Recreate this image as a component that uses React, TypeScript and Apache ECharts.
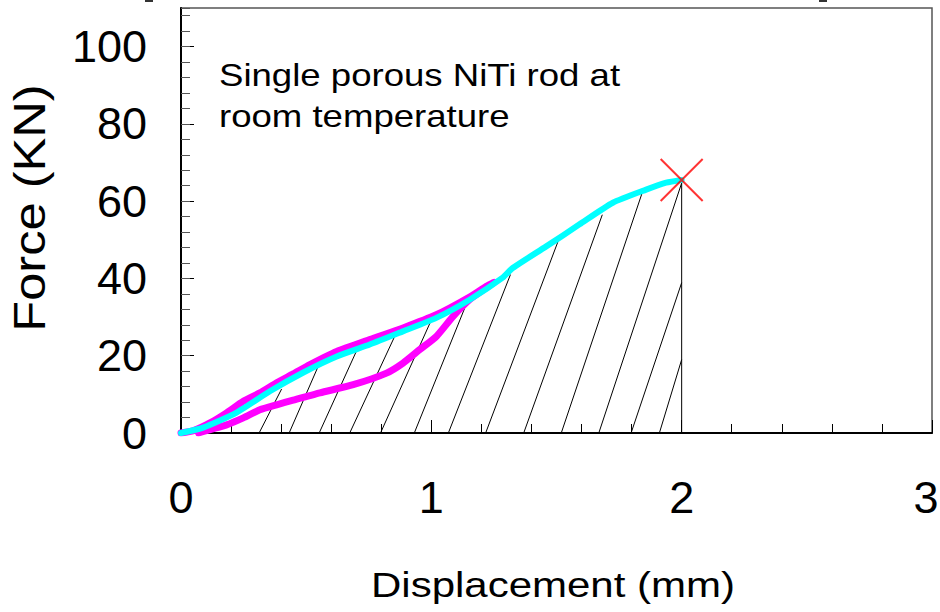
import React, { useEffect, useRef } from "react";
import * as echarts from "echarts";

// Displacement (mm) / force (kN) pairs for the first load-unload loop
const loopLoadX = [0, 0.05, 0.116, 0.182, 0.249, 0.315, 0.382, 0.448, 0.515, 0.622, 0.754, 0.887, 1.02, 1.153, 1.22, 1.25];
const loopLoadY = [0, 0.6, 2.6, 5.2, 8.2, 10.4, 13.0, 15.3, 17.7, 21.1, 24.2, 27.2, 30.6, 35.2, 38.0, 39.0];
const loopUnloadX = [1.25, 1.22, 1.153, 1.087, 1.02, 0.954, 0.887, 0.821, 0.688, 0.555, 0.448, 0.382, 0.315, 0.249, 0.182, 0.116, 0.07];
const loopUnloadY = [39.0, 37.6, 34.5, 30.2, 25.0, 21.6, 18.1, 15.5, 12.5, 10.4, 8.5, 7.3, 6.0, 3.9, 2.1, 0.9, 0];

// Loading to fracture
const fractureX = [0, 0.088, 0.222, 0.355, 0.487, 0.622, 0.754, 0.886, 1.02, 1.153, 1.285, 1.325, 1.459, 1.592, 1.725, 1.858, 1.938, 2.0];
const fractureY = [0, 1.4, 5.3, 10.8, 15.6, 19.8, 22.9, 26.3, 29.8, 34.5, 40.2, 42.7, 48.3, 54.0, 59.6, 63.0, 64.8, 65.5];

// Fracture point
const breakPoint = [2.0, 65.5];

// Hatching under the fracture curve: start on the x axis, end on the curve
const hatchStartX = [0.312, 0.432, 0.552, 0.674, 0.797, 0.932, 1.068, 1.217, 1.369, 1.519, 1.669, 1.798, 1.911, 2.0];
const hatchEndX = [0.402, 0.551, 0.705, 0.855, 0.999, 1.15, 1.316, 1.512, 1.683, 1.845, 2.0, 2.0, 2.0, 2.0];
const hatchEndY = [11.4, 17.7, 21.8, 25.2, 29.1, 35.0, 41.0, 50.6, 56.5, 62.7, 64.7, 38.9, 19.0, 65.5];

const xTicks = [0, 1, 2, 3];
const yTicks = [0, 20, 40, 60, 80, 100];

const FONT = "'Liberation Sans', Arial, Helvetica, sans-serif";

export default function App() {
  const ref = useRef<HTMLDivElement>(null);

  useEffect(() => {
    if (!ref.current) return;
    const chart = echarts.init(ref.current, null, { renderer: "svg" });

    const pairs = (xs: number[], ys: number[]) => xs.map((x, i) => [x, ys[i]]);
    const loop = pairs(loopLoadX, loopLoadY).concat(pairs(loopUnloadX, loopUnloadY));
    const fracture = pairs(fractureX, fractureY);
    const hatch = hatchStartX.map((x, i) => [x, hatchEndX[i], hatchEndY[i]]);
    const xMax = xTicks[xTicks.length - 1];

    const option: any = {
      animation: false,
      backgroundColor: "#ffffff",
      grid: {
        left: 181,
        right: 8,
        top: 8,
        bottom: 179,
        containLabel: false,
        outerBoundsMode: "none",
        show: true,
        borderColor: "#555555",
        borderWidth: 1.5,
        backgroundColor: "transparent",
      },
      xAxis: [
        {
          type: "value",
          min: xTicks[0],
          max: xMax,
          interval: 1,
          axisLine: { show: true, onZero: false, lineStyle: { color: "#000", width: 2 } },
          axisTick: { show: true, inside: true, length: 13, lineStyle: { color: "#000", width: 1 } },
          minorTick: { show: true, splitNumber: 5, length: 9, lineStyle: { color: "#000", width: 1 } },
          splitLine: { show: false },
          axisLabel: {
            color: "#000",
            fontSize: 45,
            fontFamily: FONT,
            margin: 42,
            hideOverlap: false,
            // the last label sits at the right edge; pad it so it stays inside
            formatter: (v: number) =>
              xTicks.includes(v) ? (v === xMax ? `{edge|${v}}` : String(v)) : "",
            rich: {
              edge: { fontSize: 45, fontFamily: FONT, color: "#000", padding: [0, 12, 0, 0] },
            },
          },
        },
      ],
      yAxis: [
        {
          type: "value",
          min: 0,
          max: 110,
          interval: 20,
          axisLine: { show: true, onZero: false, lineStyle: { color: "#000", width: 2 } },
          axisTick: { show: true, inside: true, length: 13, lineStyle: { color: "#000", width: 1 } },
          splitLine: { show: false },
          axisLabel: {
            color: "#000",
            fontSize: 45,
            fontFamily: FONT,
            margin: 34,
            showMaxLabel: false,
            formatter: (v: number) => (yTicks.includes(v) ? String(v) : ""),
          },
        },
        {
          // minor ticks every 4 kN
          type: "value",
          position: "left",
          min: 0,
          max: 110,
          interval: 4,
          axisLine: { show: false },
          axisTick: { show: true, inside: true, length: 9, lineStyle: { color: "#555", width: 1 } },
          axisLabel: { show: false },
          splitLine: { show: false },
        },
      ],
      series: [
        {
          type: "custom",
          name: "hatch",
          xAxisIndex: 0,
          yAxisIndex: 0,
          data: hatch,
          encode: { x: [0, 1], y: 2 },
          z: 1,
          renderItem: (_params: any, api: any) => {
            const p0 = api.coord([api.value(0), 0]);
            const p1 = api.coord([api.value(1), api.value(2)]);
            return {
              type: "line",
              shape: { x1: p0[0], y1: p0[1], x2: p1[0], y2: p1[1] },
              style: { stroke: "#000", lineWidth: 1 },
            };
          },
        },
        {
          type: "line",
          name: "loop",
          data: loop,
          showSymbol: false,
          symbol: "none",
          smooth: 0.2,
          z: 2,
          lineStyle: { color: "#FF00FF", width: 7, cap: "round", join: "round" },
        },
        {
          type: "line",
          name: "fracture",
          data: fracture,
          showSymbol: false,
          symbol: "none",
          smooth: 0.2,
          z: 3,
          lineStyle: { color: "#00FFFF", width: 6, cap: "round", join: "round" },
        },
        {
          type: "scatter",
          name: "break",
          data: [breakPoint],
          symbol: "path://M0,0L10,10M10,0L0,10",
          symbolSize: 42,
          z: 4,
          itemStyle: { color: "none", borderColor: "#FF0000", borderWidth: 2 },
        },
      ],
      graphic: [
        {
          type: "text",
          x: 219,
          y: 75,
          scaleX: 1.18,
          style: {
            text: "Single porous NiTi rod at",
            fill: "#000",
            font: `31px ${FONT}`,
            align: "left",
            verticalAlign: "middle",
          },
        },
        {
          type: "text",
          x: 219,
          y: 116,
          scaleX: 1.18,
          style: {
            text: "room temperature",
            fill: "#000",
            font: `31px ${FONT}`,
            align: "left",
            verticalAlign: "middle",
          },
        },
        {
          type: "text",
          x: 553,
          y: 585,
          scaleX: 1.2,
          style: {
            text: "Displacement (mm)",
            fill: "#000",
            font: `35px ${FONT}`,
            align: "center",
            verticalAlign: "middle",
          },
        },
        {
          type: "text",
          x: 30,
          y: 208,
          rotation: Math.PI / 2,
          scaleX: 1.15,
          style: {
            text: "Force (KN)",
            fill: "#000",
            font: `44px ${FONT}`,
            align: "center",
            verticalAlign: "middle",
          },
        },
        { type: "rect", shape: { x: 145, y: 0, width: 8, height: 2 }, style: { fill: "#333" } },
        { type: "rect", shape: { x: 819, y: 0, width: 8, height: 2 }, style: { fill: "#333" } },
      ],
    };

    chart.setOption(option);
    return () => chart.dispose();
  }, []);

  return (
    <div
      ref={ref}
      style={{ position: "fixed", left: 0, top: 0, width: 940, height: 612, background: "#fff" }}
    />
  );
}
